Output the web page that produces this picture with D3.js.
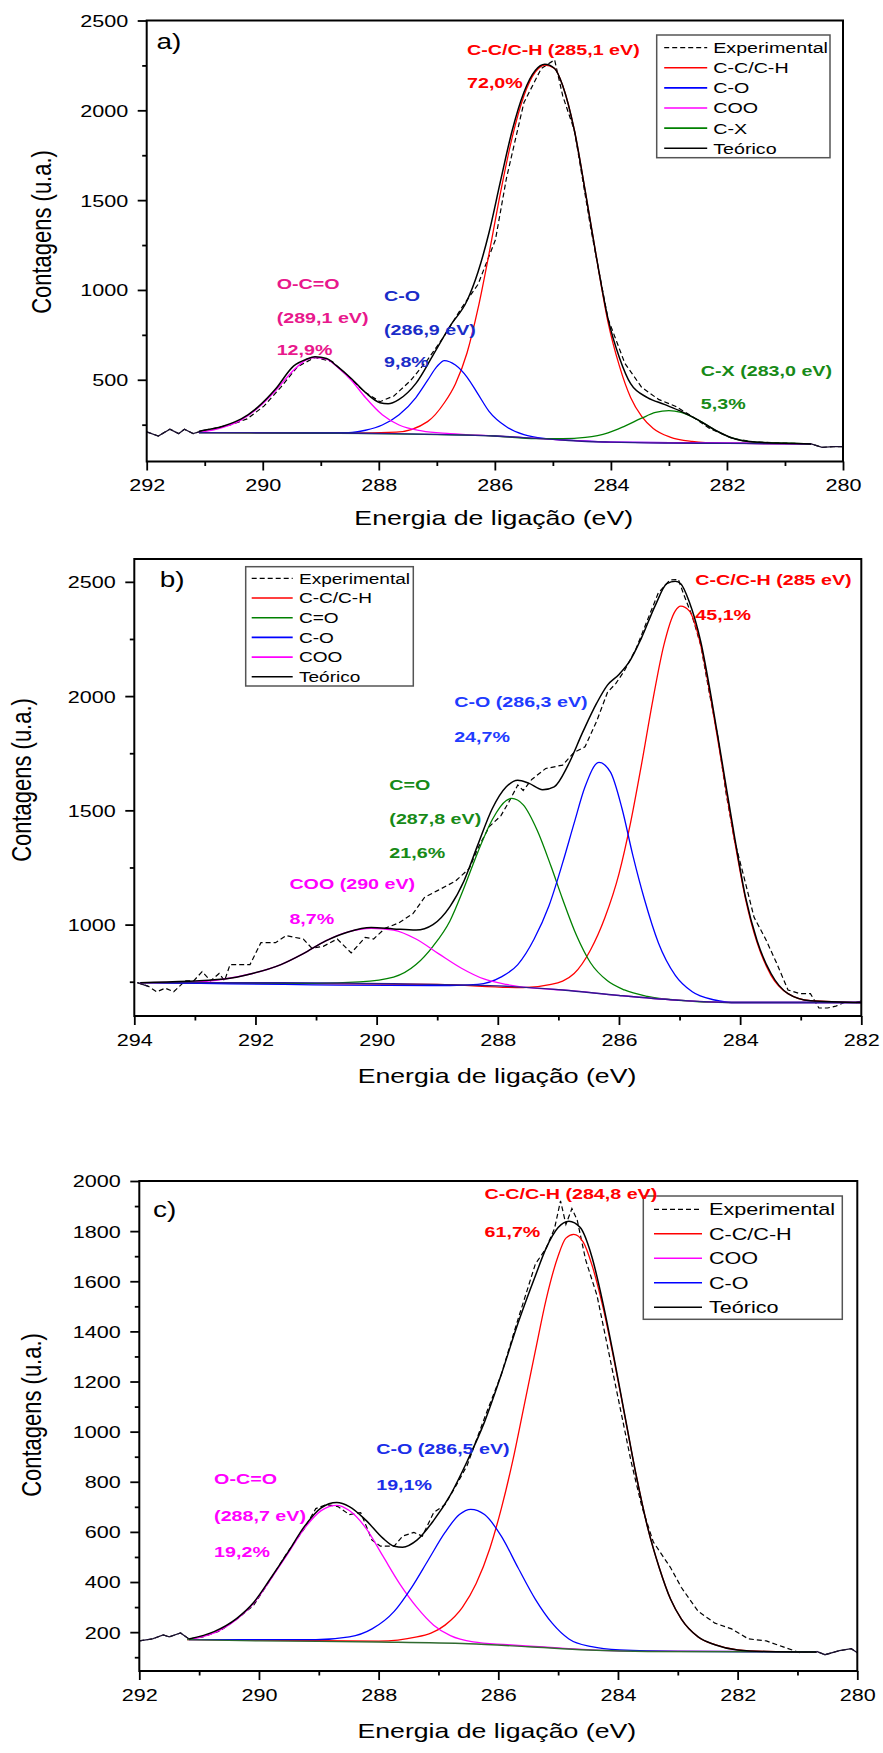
<!DOCTYPE html>
<html>
<head>
<meta charset="utf-8">
<script src="https://cdn.jsdelivr.net/npm/d3@7"></script>
<style>
  html, body { margin: 0; padding: 0; background: #fff; }
  svg text { font-family: 'Liberation Sans', Arial, Helvetica, sans-serif; }
</style>
</head>
<body>
<svg id="chart" width="883" height="1753"></svg>
<script>
// ===================== Panel a) =====================
const aTicksX = [292, 290, 288, 286, 284, 282, 280];
const aTicksY = [500, 1000, 1500, 2000, 2500];
const aExperimental = [[292.0,210],[291.8,187],[291.6,225],[291.45,200],[291.35,225],[291.2,200],[291.0,219],[290.56,248],[290.27,282],[289.98,353],[289.69,458],[289.4,573],[289.1,624],[288.8,601],[288.52,515],[288.23,429],[287.98,378],[287.74,410],[287.45,496],[287.16,611],[286.87,744],[286.58,897],[286.29,1031],[285.99,1279],[285.8,1622],[285.5,2042],[285.2,2233],[284.97,2281],[284.83,2080],[284.63,1889],[284.34,1330],[284.05,840],[283.76,592],[283.47,458],[283.18,391],[282.89,353],[282.6,296],[282.3,229],[281.9,172],[281.5,153],[280.94,147],[280.55,143],[280.36,124],[280.17,128],[280.0,128]];
const aCC = [[291.1,206],[288.5,203],[287.7,208],[287.16,267],[286.87,372],[286.68,477],[286.48,649],[286.29,897],[286.1,1202],[285.9,1546],[285.7,1851],[285.5,2080],[285.3,2214],[285.14,2252],[284.97,2233],[284.83,2137],[284.63,1889],[284.44,1546],[284.24,1164],[284.05,821],[283.85,573],[283.66,401],[283.47,296],[283.27,229],[282.98,181],[282.6,157],[282.1,147],[280.55,143]];
const aCO = [[291.1,206],[288.52,206],[288.23,219],[287.94,248],[287.65,305],[287.36,401],[287.16,496],[287.0,573],[286.87,607],[286.68,582],[286.48,515],[286.29,420],[286.1,324],[285.8,238],[285.5,194],[285.12,172],[284.83,166],[284.0,153],[282.0,147],[280.55,143]];
const aCOO = [[291.1,206],[290.66,238],[290.37,277],[290.08,344],[289.78,439],[289.47,553],[289.25,611],[289.1,624],[288.9,615],[288.72,573],[288.47,496],[288.23,401],[287.94,305],[287.65,248],[287.26,215],[286.77,200],[285.99,187],[285.0,168],[284.0,153],[282.0,147],[280.55,143]];
const aCX = [[291.1,206],[288.0,200],[286.0,187],[285.3,172],[284.83,172],[284.44,179],[284.05,204],[283.76,242],[283.47,286],[283.23,318],[283.0,328],[282.79,318],[282.5,277],[282.2,219],[281.91,176],[281.52,153],[280.94,147],[280.55,143]];
const aFit = [[291.1,214],[290.66,244],[290.37,282],[290.08,349],[289.78,448],[289.47,576],[289.25,614],[289.1,628],[288.9,618],[288.72,576],[288.47,506],[288.23,429],[287.98,372],[287.84,366],[287.65,391],[287.36,480],[287.06,640],[286.77,800],[286.48,940],[286.29,1100],[286.1,1320],[285.9,1610],[285.7,1889],[285.5,2099],[285.3,2223],[285.14,2256],[284.97,2233],[284.83,2137],[284.63,1889],[284.44,1546],[284.24,1164],[284.05,840],[283.85,620],[283.66,478],[283.37,401],[283.08,363],[282.79,324],[282.5,277],[282.2,219],[281.91,176],[281.52,153],[280.55,143]];
const aBaseline = [[291.1,206],[289.0,204],[288.0,201],[287.0,196],[286.0,187],[285.5,178],[285.0,168],[284.5,158],[284.0,153],[283.0,148],[282.0,146],[280.55,143]];
const aLegend = [["Experimental","exp"],["C-C/C-H","cc"],["C-O","co"],["COO","coo"],["C-X","cx"],["Teórico","fit"]];
const aNotes = [
  ["C-C/C-H (285,1 eV)", 286.48, 2338, "cc"],
  ["72,0%", 286.48, 2156, "cc"],
  ["O-C=O", 289.76, 1034, "cooA"],
  ["(289,1 eV)", 289.76, 849, "cooA"],
  ["12,9%", 289.76, 668, "cooA"],
  ["C-O", 287.91, 969, "coA"],
  ["(286,9 eV)", 287.91, 782, "coA"],
  ["9,8%", 287.91, 601, "coA"],
  ["C-X (283,0 eV)", 282.45, 550, "cxTxt"],
  ["5,3%", 282.45, 366, "cxTxt"],
  ["a)", 291.83, 2382, "tag"]
];

// ===================== Panel b) =====================
const bTicksX = [294, 292, 290, 288, 286, 284, 282];
const bTicksY = [1000, 1500, 2000, 2500];
const bExperimental = [[293.95,746],[293.77,730],[293.63,706],[293.49,722],[293.35,706],[293.16,754],[293.02,754],[292.88,794],[292.74,754],[292.6,786],[292.51,754],[292.42,825],[292.23,825],[292.09,825],[291.91,921],[291.67,921],[291.49,952],[291.35,944],[291.21,937],[291.07,897],[290.88,905],[290.65,937],[290.42,876],[290.19,944],[290.05,937],[289.86,984],[289.63,1008],[289.4,1048],[289.21,1119],[288.98,1151],[288.7,1190],[288.47,1246],[288.33,1333],[288.14,1429],[287.95,1476],[287.81,1540],[287.67,1611],[287.58,1587],[287.44,1635],[287.21,1683],[286.93,1698],[286.74,1754],[286.56,1778],[286.37,1889],[286.19,2016],[286.05,2056],[285.91,2111],[285.72,2206],[285.53,2333],[285.35,2452],[285.16,2508],[285.02,2511],[284.93,2444],[284.79,2349],[284.65,2222],[284.51,2016],[284.37,1825],[284.23,1571],[284.09,1365],[283.95,1222],[283.77,1032],[283.58,937],[283.4,833],[283.21,714],[283.02,698],[282.84,698],[282.7,635],[282.56,635],[282.42,643],[282.28,659],[282.09,659],[282.0,665]];
const bCC = [[293.9,746],[289.0,738],[287.58,724],[287.12,738],[286.74,786],[286.47,889],[286.23,1032],[286.0,1222],[285.81,1444],[285.63,1698],[285.44,1984],[285.26,2222],[285.07,2373],[284.98,2394],[284.84,2373],[284.65,2222],[284.47,1968],[284.28,1667],[284.09,1365],[283.91,1111],[283.72,921],[283.49,778],[283.21,698],[282.84,667],[282.0,659]];
const bCdO = [[293.9,746],[291.02,743],[290.28,749],[289.72,770],[289.35,825],[289.07,905],[288.79,1016],[288.56,1159],[288.33,1317],[288.09,1460],[287.86,1543],[287.77,1552],[287.58,1524],[287.35,1413],[287.12,1254],[286.93,1111],[286.7,952],[286.47,833],[286.19,754],[285.91,714],[285.53,686],[285.07,670],[284.14,659],[282.0,659]];
const bCO = [[293.9,746],[288.79,733],[288.33,738],[287.95,770],[287.67,825],[287.4,937],[287.16,1079],[286.93,1270],[286.74,1444],[286.56,1603],[286.33,1710],[286.14,1667],[285.95,1508],[285.77,1302],[285.58,1111],[285.35,921],[285.07,778],[284.79,706],[284.42,670],[284.14,659],[282.0,659]];
const bCOO = [[293.9,746],[292.98,749],[292.51,762],[292.05,786],[291.58,825],[291.21,873],[290.84,929],[290.47,968],[290.09,984],[289.72,976],[289.35,937],[288.98,873],[288.6,809],[288.23,762],[287.86,738],[287.4,722],[286.93,714],[286.0,690],[285.07,670],[284.14,659],[282.0,659]];
const bFit = [[293.9,746],[292.51,762],[292.05,786],[291.58,825],[291.21,873],[290.84,929],[290.47,968],[290.09,987],[289.72,981],[289.35,976],[289.07,1000],[288.79,1079],[288.56,1190],[288.33,1349],[288.09,1508],[287.86,1603],[287.67,1632],[287.49,1619],[287.26,1590],[287.07,1603],[286.84,1698],[286.6,1841],[286.37,1968],[286.19,2048],[286.0,2095],[285.81,2159],[285.63,2254],[285.4,2397],[285.21,2492],[285.07,2503],[284.98,2492],[284.84,2413],[284.65,2238],[284.47,1984],[284.28,1683],[284.09,1381],[283.91,1119],[283.72,929],[283.49,786],[283.21,698],[282.84,667],[282.0,659]];
const bBaseline = [[293.9,746],[291.58,746],[289.72,741],[287.86,730],[286.93,714],[286.0,690],[285.07,670],[284.14,659],[282.0,659]];
const bLegend = [["Experimental","exp"],["C-C/C-H","cc"],["C=O","cdo"],["C-O","co"],["COO","coo"],["Teórico","fit"]];
const bNotes = [
  ["C-C/C-H (285 eV)", 284.74, 2508, "cc"],
  ["45,1%", 284.74, 2357, "cc"],
  ["C-O (286,3 eV)", 288.72, 1976, "coB"],
  ["24,7%", 288.72, 1825, "coB"],
  ["C=O", 289.79, 1611, "cdoTxt"],
  ["(287,8 eV)", 289.79, 1463, "cdoTxt"],
  ["21,6%", 289.79, 1314, "cdoTxt"],
  ["COO (290 eV)", 291.44, 1178, "coo"],
  ["8,7%", 291.44, 1027, "coo"],
  ["b)", 293.58, 2511, "tag"]
];

// ===================== Panel c) =====================
const cTicksX = [292, 290, 288, 286, 284, 282, 280];
const cTicksY = [200, 400, 600, 800, 1000, 1200, 1400, 1600, 1800, 2000];
const cExperimental = [[292.0,165],[291.78,173],[291.6,189],[291.5,181],[291.31,197],[291.17,173],[290.94,181],[290.65,205],[290.37,252],[290.09,307],[289.81,409],[289.52,520],[289.24,614],[289.05,693],[288.87,709],[288.68,701],[288.49,669],[288.3,677],[288.11,567],[287.97,543],[287.74,543],[287.6,583],[287.41,598],[287.27,583],[287.08,677],[286.89,709],[286.7,787],[286.52,866],[286.23,1055],[285.95,1228],[285.67,1449],[285.38,1669],[285.2,1732],[285.06,1811],[284.96,1921],[284.87,1827],[284.77,1890],[284.68,1843],[284.54,1685],[284.35,1543],[284.16,1323],[283.97,1102],[283.78,880],[283.6,700],[283.41,560],[283.12,457],[282.94,378],[282.66,283],[282.38,236],[282.1,213],[281.82,173],[281.52,165],[281.25,142],[280.96,118],[280.68,123],[280.54,110],[280.3,126],[280.1,134],[280.0,118]];
const cCC = [[291.2,170],[288.0,164],[287.36,181],[286.89,228],[286.6,299],[286.37,394],[286.14,535],[285.95,693],[285.76,882],[285.57,1102],[285.38,1323],[285.2,1528],[285.0,1701],[284.87,1772],[284.74,1787],[284.58,1756],[284.44,1669],[284.25,1496],[284.07,1291],[283.88,1055],[283.69,819],[283.5,614],[283.31,457],[283.12,331],[282.94,252],[282.66,181],[282.38,150],[282.0,129],[281.52,123],[280.68,121]];
const cCOO = [[291.17,170],[290.75,197],[290.37,252],[290.09,315],[289.81,409],[289.52,512],[289.24,614],[288.96,685],[288.7,706],[288.49,685],[288.21,614],[287.93,504],[287.65,394],[287.36,299],[287.08,228],[286.8,186],[286.42,161],[285.85,150],[285.0,137],[284.0,125],[280.68,121]];
const cCO = [[291.17,170],[289.05,170],[288.49,181],[288.11,213],[287.74,283],[287.45,378],[287.17,488],[286.89,598],[286.65,669],[286.46,690],[286.23,669],[285.95,583],[285.67,457],[285.38,331],[285.1,236],[284.82,173],[284.44,142],[283.97,129],[283.0,123],[280.68,121]];
const cFit = [[291.17,173],[290.75,202],[290.37,255],[290.09,318],[289.81,413],[289.52,517],[289.24,622],[288.96,696],[288.7,717],[288.49,701],[288.21,646],[287.93,575],[287.74,543],[287.6,539],[287.36,567],[287.08,646],[286.8,748],[286.52,882],[286.23,1039],[285.95,1228],[285.67,1433],[285.38,1622],[285.2,1732],[285.0,1814],[284.82,1839],[284.63,1814],[284.44,1701],[284.25,1512],[284.07,1299],[283.88,1058],[283.69,819],[283.5,614],[283.31,457],[283.12,331],[282.94,252],[282.66,181],[282.38,150],[282.0,129],[281.52,123],[280.68,121]];
const cBaseline = [[291.2,170],[290.0,165],[288.0,161],[286.5,154],[285.5,142],[284.5,129],[283.5,123],[280.68,121]];
const cLegend = [["Experimental","exp"],["C-C/C-H","cc"],["COO","coo"],["C-O","co"],["Teórico","fit"]];
const cNotes = [
  ["C-C/C-H (284,8 eV)", 286.23, 1950, "cc"],
  ["61,7%", 286.23, 1800, "cc"],
  ["C-O (286,5 eV)", 288.04, 932, "coC"],
  ["19,1%", 288.04, 787, "coC"],
  ["O-C=O", 290.75, 811, "coo"],
  ["(288,7 eV)", 290.75, 665, "coo"],
  ["19,2%", 290.75, 520, "coo"],
  ["c)", 291.77, 1887, "tag"]
];

// Shared axis titles
const xTitle = "Energia de ligação (eV)";
const yTitle = "Contagens (u.a.)";

// ===================== styling =====================
const S = 1.27;                      // horizontal glyph stretch used across the figure
const colors = {
  exp: "#000", cc: "#ff0000", co: "#0000ff", coo: "#ff00ff", cx: "#008000", cdo: "#008000",
  fit: "#000", baseAB: "#2b1c8c", baseC: "#2f6a2f",
  cooA: "#e8188c", coA: "#1a2cc8", coB: "#1f3cff", coC: "#1a2ee8", cxTxt: "#178a17", cdoTxt: "#178a17",
  tag: "#000"
};

const panels = [
  {
    id: "a", frame: { left: 146.7, top: 20.5, right: 843, bottom: 461.5 },
    xDomain: [292, 280], yDomain: [45, 2500], ticksX: aTicksX, ticksY: aTicksY, minorY: 250,
    exp: aExperimental,
    comps: [[aCC, "cc"], [aCO, "co"], [aCOO, "coo"], [aCX, "cx"]],
    base: [aBaseline, "baseAB"], fit: aFit,
    legend: { x: 656.7, y: 35, w: 173.3, h: 122.7, row0: 12.7, step: 20.1, sx: 7.5, sw: 43, tx: 56.5, size: 15.5, items: aLegend },
    notes: aNotes, xTitlePos: [493.7, 517.6], yTitlePos: [41.4, 232]
  },
  {
    id: "b", frame: { left: 134.3, top: 559, right: 861.3, bottom: 1016 },
    xDomain: [294, 282], yDomain: [600, 2600], ticksX: bTicksX, ticksY: bTicksY, minorY: 250,
    exp: bExperimental,
    comps: [[bCC, "cc"], [bCdO, "cdo"], [bCO, "co"], [bCOO, "coo"]],
    base: [bBaseline, "baseAB"], fit: bFit,
    legend: { x: 245.7, y: 566.7, w: 167.6, h: 119.3, row0: 11.6, step: 19.7, sx: 6, sw: 41, tx: 53.3, size: 15, items: bLegend },
    notes: bNotes, xTitlePos: [497, 1076], yTitlePos: [21.6, 780]
  },
  {
    id: "c", frame: { left: 139.3, top: 1181, right: 857.3, bottom: 1671 },
    xDomain: [292, 280], yDomain: [45, 2000], ticksX: cTicksX, ticksY: cTicksY, minorY: 100,
    exp: cExperimental,
    comps: [[cCC, "cc"], [cCOO, "coo"], [cCO, "co"]],
    base: [cBaseline, "baseC"], fit: cFit,
    legend: { x: 643.3, y: 1196, w: 199, h: 123.3, row0: 13.3, step: 24.5, sx: 10.7, sw: 48, tx: 65.7, size: 17, items: cLegend },
    notes: cNotes, xTitlePos: [496.8, 1731], yTitlePos: [31.2, 1415]
  }
];

const svg = d3.select("#chart");

// Text helper: glyphs are widened horizontally by S around the anchor point
function addText(parent, x, y, str, opt) {
  const g = parent.append("g")
    .attr("transform", `translate(${x},${y}) scale(${S},1)` + (opt.rotate ? ` rotate(${opt.rotate})` : ""));
  return g.append("text")
    .text(str)
    .attr("font-size", opt.size)
    .attr("font-weight", opt.weight || "normal")
    .attr("fill", opt.color || "#000")
    .attr("text-anchor", opt.anchor || "start")
    .attr("dy", "0.35em");
}

panels.forEach(p => {
  const f = p.frame;
  const x = d3.scaleLinear().domain(p.xDomain).range([f.left, f.right]);
  const y = d3.scaleLinear().domain(p.yDomain).range([f.bottom, f.top]);
  const g = svg.append("g").attr("class", "panel-" + p.id);

  const clipId = "clip-" + p.id;
  g.append("clipPath").attr("id", clipId)
    .append("rect").attr("x", f.left).attr("y", f.top)
    .attr("width", f.right - f.left).attr("height", f.bottom - f.top);

  const plot = g.append("g").attr("clip-path", `url(#${clipId})`);
  const smooth = d3.line().x(d => x(d[0])).y(d => y(d[1])).curve(d3.curveMonotoneX);
  const jagged = d3.line().x(d => x(d[0])).y(d => y(d[1]));

  // experimental trace (dashed inside the fitted window)
  plot.append("path").datum(p.exp).attr("d", jagged)
    .attr("fill", "none").attr("stroke", colors.exp).attr("stroke-width", 1.2)
    .attr("stroke-dasharray", "5,3");

  // outside the fitted window the raw trace reads as a continuous line
  const fitHi = d3.max(p.fit, d => d[0]), fitLo = d3.min(p.fit, d => d[0]);
  const leftTail = p.exp.filter(d => d[0] >= fitHi - 0.2);
  const rightTail = p.exp.filter(d => d[0] <= fitLo + 0.2);
  [leftTail, rightTail].forEach(seg => {
    if (seg.length > 1) {
      plot.append("path").datum(seg).attr("d", jagged)
        .attr("fill", "none").attr("stroke", "#1a1030").attr("stroke-width", 1.3);
    }
  });

  // fitted components
  p.comps.forEach(([data, key]) => {
    plot.append("path").datum(data).attr("d", smooth)
      .attr("fill", "none").attr("stroke", colors[key]).attr("stroke-width", 1.3);
  });

  // background
  plot.append("path").datum(p.base[0]).attr("d", smooth)
    .attr("fill", "none").attr("stroke", colors[p.base[1]]).attr("stroke-width", 1.4);

  // envelope
  plot.append("path").datum(p.fit).attr("d", smooth)
    .attr("fill", "none").attr("stroke", colors.fit).attr("stroke-width", 1.5);

  // axes: major and minor ticks pointing outwards
  const [x0, x1] = p.xDomain;
  const minorX = d3.range(Math.min(x0, x1), Math.max(x0, x1) + 0.001, 1).filter(v => !p.ticksX.includes(v));
  const minorYVals = d3.range(Math.ceil(p.yDomain[0] / p.minorY) * p.minorY, p.yDomain[1] + 0.001, p.minorY)
    .filter(v => !p.ticksY.includes(v));

  const xAxis = g.append("g").attr("transform", `translate(0,${f.bottom})`)
    .call(d3.axisBottom(x).tickValues(p.ticksX).tickSize(9).tickSizeOuter(0).tickFormat(d3.format("d")));
  g.append("g").attr("transform", `translate(0,${f.bottom})`)
    .call(d3.axisBottom(x).tickValues(minorX).tickSize(4.5).tickSizeOuter(0).tickFormat(""));
  const yAxis = g.append("g").attr("transform", `translate(${f.left},0)`)
    .call(d3.axisLeft(y).tickValues(p.ticksY).tickSize(9).tickSizeOuter(0).tickFormat(d3.format("d")));
  g.append("g").attr("transform", `translate(${f.left},0)`)
    .call(d3.axisLeft(y).tickValues(minorYVals).tickSize(4.5).tickSizeOuter(0).tickFormat(""));

  g.selectAll(".domain").remove();
  g.selectAll(".tick line").attr("stroke", "#000").attr("stroke-width", 1.8);

  xAxis.selectAll(".tick text")
    .attr("font-size", 17).attr("fill", "#000")
    .attr("y", 24).attr("dy", "0.35em")
    .attr("transform", `scale(${S},1)`);
  yAxis.selectAll(".tick text")
    .attr("font-size", 17).attr("fill", "#000")
    .attr("x", -18.5 / S).attr("dy", "0.35em")
    .attr("transform", `scale(${S},1)`);

  // frame
  g.append("rect").attr("x", f.left).attr("y", f.top)
    .attr("width", f.right - f.left).attr("height", f.bottom - f.top)
    .attr("fill", "none").attr("stroke", "#000").attr("stroke-width", 2);

  // legend
  const L = p.legend;
  const lg = g.append("g");
  lg.append("rect").attr("x", L.x).attr("y", L.y).attr("width", L.w).attr("height", L.h)
    .attr("fill", "#fff").attr("stroke", "#555").attr("stroke-width", 1.5);
  L.items.forEach(([name, key], i) => {
    const cy = L.y + L.row0 + i * L.step;
    lg.append("line").attr("x1", L.x + L.sx).attr("x2", L.x + L.sx + L.sw)
      .attr("y1", cy).attr("y2", cy)
      .attr("stroke", colors[key]).attr("stroke-width", key === "exp" ? 1.3 : 1.6)
      .attr("stroke-dasharray", key === "exp" ? "5,3" : null);
    addText(lg, L.x + L.tx, cy, name, { size: L.size });
  });

  // peak annotations
  p.notes.forEach(([txt, ev, cnt, key]) => {
    if (key === "tag") {
      addText(g, x(ev), y(cnt), txt, { size: 22, color: colors.tag });
    } else {
      addText(g, x(ev), y(cnt), txt, { size: 15.5, weight: "bold", color: colors[key] });
    }
  });

  // axis titles
  addText(g, p.xTitlePos[0], p.xTitlePos[1], xTitle, { size: 21, anchor: "middle" });
  addText(g, p.yTitlePos[0], p.yTitlePos[1], yTitle, { size: 22, anchor: "middle", rotate: -90 });
});
</script>
</body>
</html>
